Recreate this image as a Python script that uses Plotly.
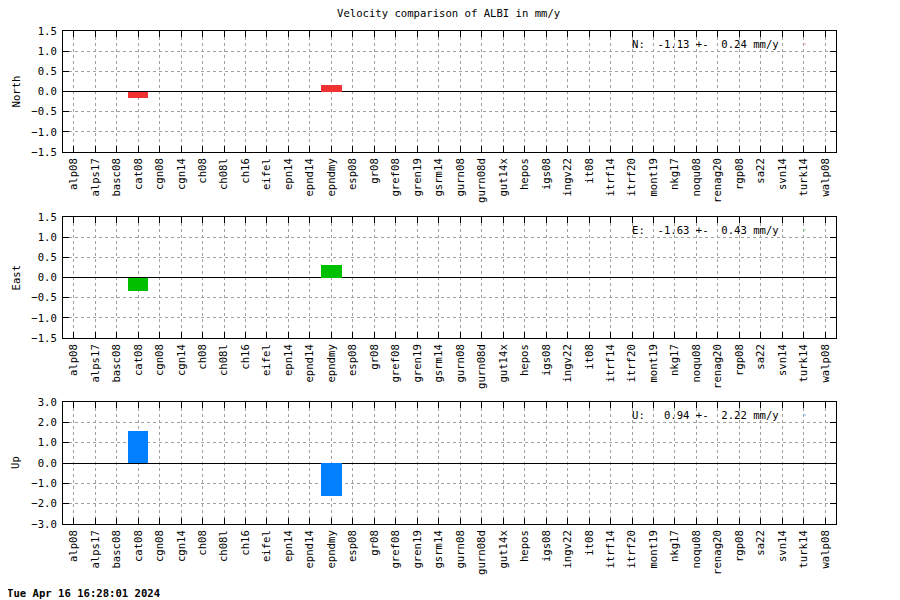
import plotly.graph_objects as go

stations = ["alp08", "alps17", "basc08", "cat08", "cgn08", "cgn14", "ch08", "ch08l", "ch16",
            "eifel", "epn14", "epnd14", "epndmy", "esp08", "gr08", "gref08", "gren19", "gsrm14",
            "gurn08", "gurn08d", "gut14x", "hepos", "igs08", "ingv22", "it08", "itrf14", "itrf20",
            "mont19", "nkg17", "noqu08", "renag20", "rgp08", "sa22", "svn14", "turk14", "walp08"]

north = [0.0] * len(stations)
east = [0.0] * len(stations)
up = [0.0] * len(stations)
north[stations.index("cat08")] = -0.17
north[stations.index("epndmy")] = 0.15
east[stations.index("cat08")] = -0.34
east[stations.index("epndmy")] = 0.31
up[stations.index("cat08")] = 1.59
up[stations.index("epndmy")] = -1.60

comp_names = ["North", "East", "Up"]
comp_keys = ["N", "E", "U"]
comp_values = [north, east, up]
comp_mean = [-1.13, -1.63, 0.94]
comp_sigma = [0.24, 0.43, 2.22]
comp_ranges = [[-1.5, 1.5], [-1.5, 1.5], [-3.0, 3.0]]
comp_dticks = [0.5, 0.5, 1.0]
comp_colors = ["#f03232", "#00c000", "#0080ff"]

title = "Velocity comparison of ALBI in mm/y"
timestamp = "Tue Apr 16 16:28:01 2024"

W, H = 900, 600
OX, OY = 8, 8  # page body margin offset compensation
FONT = "DejaVu Sans Mono"
FS = 10.6


def px(x):
    return (x - OX) / W


def py(y):
    return 1 - (y - OY) / H


# panel pixel boxes (top, bottom) in screen pixels
panels_px = [(31, 152), (217, 338), (402, 524)]
x_left, x_right = 63, 836

fig = go.Figure()
annotations = []
shapes = []
xs = list(range(len(stations)))

for i in range(3):
    ax = "" if i == 0 else str(i + 1)
    top, bot = panels_px[i]
    fig.add_trace(go.Bar(
        x=xs, y=comp_values[i], width=0.95,
        marker=dict(color=comp_colors[i], line=dict(width=0)),
        xaxis="x" + ax, yaxis="y" + ax, showlegend=False,
    ))
    common = dict(showline=True, linecolor="black", linewidth=1, mirror="allticks",
                  ticks="inside", ticklen=6, tickcolor="black", tickwidth=1,
                  showgrid=True, gridcolor="#a0a0a0", gridwidth=1, griddash="dot",
                  automargin=False,
                  tickfont=dict(family=FONT, size=FS, color="black"))
    fig.layout["xaxis" + ax] = dict(
        domain=[px(x_left), px(x_right)], anchor="y" + ax,
        range=[-0.5, len(stations) - 0.5], tickmode="array",
        tickvals=xs, ticktext=stations, tickangle=-90, zeroline=False,
        ticklabelstandoff=1,
        **common)
    fig.layout["yaxis" + ax] = dict(
        domain=[py(bot), py(top)], anchor="x" + ax,
        range=comp_ranges[i], dtick=comp_dticks[i], tick0=0, tickformat=".1f",
        zeroline=True, zerolinecolor="black", zerolinewidth=1,
        ticklabelstandoff=3,
        **common)
    # y-axis label
    annotations.append(dict(
        text=comp_names[i], x=px(15), y=py((top + bot) / 2),
        xref="paper", yref="paper", showarrow=False, textangle=-90,
        xanchor="center", yanchor="middle",
        font=dict(family=FONT, size=FS, color="black")))
    # key text
    key = f"{comp_keys[i]}:  {comp_mean[i]:5.2f} +-  {comp_sigma[i]:4.2f} mm/y".replace(" ", "\u00a0")
    annotations.append(dict(
        text=key, x=px(630), y=py(top + 13),
        xref="paper", yref="paper", showarrow=False,
        xanchor="left", yanchor="middle",
        font=dict(family=FONT, size=FS, color="black")))
    # key sample dot
    shapes.append(dict(
        type="rect", xref="paper", yref="paper",
        x0=px(804.5), x1=px(805.5), y0=py(top + 13.5), y1=py(top + 12.5),
        fillcolor=comp_colors[i], line=dict(width=0)))

annotations.append(dict(
    text=title, x=px(448), y=py(13), xref="paper", yref="paper", showarrow=False,
    xanchor="center", yanchor="middle",
    font=dict(family=FONT, size=FS, color="black")))
annotations.append(dict(
    text="<b>" + timestamp + "</b>", x=px(5), y=py(593), xref="paper", yref="paper",
    showarrow=False, xanchor="left", yanchor="middle",
    font=dict(family=FONT, size=FS, color="black")))

fig.update_layout(
    width=W, height=H, margin=dict(l=0, r=0, t=0, b=0),
    paper_bgcolor="white", plot_bgcolor="white",
    annotations=annotations, shapes=shapes, bargap=0,
)

fig.write_html("out.html")
